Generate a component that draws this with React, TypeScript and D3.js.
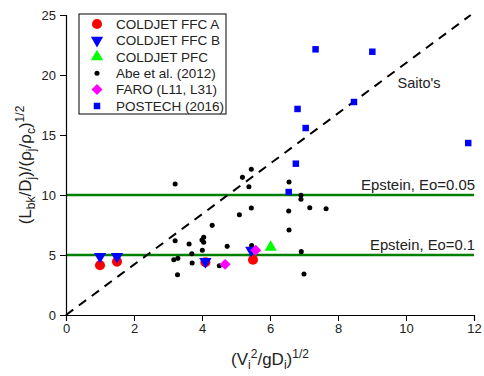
import React, { useEffect, useRef } from 'react';
import * as d3 from 'd3';

// COLDJET / Abe / FARO / POSTECH data: [x, y]
const coldjetFfcA = [[1.0, 4.15], [1.5, 4.45], [4.1, 4.4], [5.5, 4.6]];
const coldjetFfcB = [[1.0, 4.88], [1.5, 4.88], [4.1, 4.45], [5.45, 5.4]];
const coldjetPfc = [[6.02, 5.65]];
const abe2012 = [
  [3.21, 10.92], [5.19, 11.47], [5.45, 12.14], [5.38, 10.69], [5.45, 8.92],
  [5.1, 8.36], [4.3, 7.47], [3.21, 6.19], [4.05, 6.47], [4.0, 6.25],
  [4.05, 6.06], [3.62, 5.92], [4.74, 5.72], [4.01, 5.39], [5.46, 5.8],
  [3.7, 5.11], [3.29, 4.72], [3.17, 4.61], [3.71, 4.33], [4.51, 4.11],
  [3.28, 3.36], [6.56, 11.08], [6.91, 9.97], [6.91, 9.64], [6.55, 8.67],
  [7.17, 8.94], [7.65, 8.86], [6.56, 7.08], [6.92, 5.28], [7.0, 3.42]
];
const faro = [[4.68, 4.22], [5.58, 5.4]];
const postech2016 = [
  [7.34, 22.14], [9.01, 21.94], [8.47, 17.75], [6.81, 17.17], [7.05, 15.58],
  [11.83, 14.33], [6.76, 12.61], [6.55, 10.25]
];

const epsteinLevels = [10, 5];
const epsteinLabels = ['Epstein, Eo=0.05', 'Epstein, Eo=0.1'];
const epsteinWidths = [114, 105];
const saitoSlope = 2.1;

const xTicks = [0, 2, 4, 6, 8, 10, 12];
const yTicks = [0, 5, 10, 15, 20, 25];

const seriesNames = [
  'COLDJET FFC A', 'COLDJET FFC B', 'COLDJET PFC',
  'Abe et al. (2012)', 'FARO (L11, L31)', 'POSTECH (2016)'
];

const App = () => {
  const svgRef = useRef(null);
  const width = 484;
  const height = 376;
  const margin = { top: 15, right: 8, bottom: 61, left: 66 };

  useEffect(() => {
    const svg = d3.select(svgRef.current);
    svg.selectAll('*').remove();
    const font = 'Liberation Sans, Arial, sans-serif';

    const plotW = width - margin.left - margin.right - 2;
    const plotH = height - margin.top - margin.bottom;

    const x = d3.scaleLinear().domain([0, 12]).range([0, plotW]);
    const y = d3.scaleLinear().domain([0, 25]).range([plotH, 0]);

    const plot = svg.append('g')
      .attr('transform', `translate(${margin.left}, ${margin.top})`);

    // reference lines
    plot.selectAll('.epstein')
      .data(epsteinLevels)
      .enter()
      .append('line')
      .attr('x1', x(0))
      .attr('x2', x(12))
      .attr('y1', d => y(d))
      .attr('y2', d => y(d))
      .attr('stroke', '#008000')
      .attr('stroke-width', 2.5);

    plot.selectAll('.epstein-label')
      .data(epsteinLevels)
      .enter()
      .append('text')
      .attr('x', x(12) + 1)
      .attr('y', d => y(d) - 5)
      .attr('text-anchor', 'end')
      .attr('font-family', font)
      .attr('font-size', 14)
      .attr('textLength', (d, i) => epsteinWidths[i])
      .attr('lengthAdjust', 'spacingAndGlyphs')
      .attr('fill', '#222')
      .text((d, i) => epsteinLabels[i]);

    const saitoEnd = 25 / saitoSlope;
    plot.append('line')
      .attr('x1', x(0))
      .attr('y1', y(0))
      .attr('x2', x(saitoEnd))
      .attr('y2', y(25))
      .attr('stroke', '#000')
      .attr('stroke-width', 2)
      .attr('stroke-dasharray', '9,7');

    plot.append('text')
      .attr('x', x(9.75))
      .attr('y', y(18.95))
      .attr('font-family', font)
      .attr('font-size', 14.5)
      .attr('fill', '#222')
      .text("Saito's");

    // axes
    const xAxis = plot.append('g').attr('transform', `translate(0, ${plotH})`);
    xAxis.call(d3.axisBottom(x).tickValues(d3.range(0, 13, 1)).tickSize(3).tickFormat(() => ''));
    xAxis.call(d3.axisBottom(x).tickValues(xTicks).tickSize(6).tickPadding(3).tickFormat(d3.format('d')));

    const yAxis = plot.append('g');
    yAxis.call(d3.axisLeft(y).tickValues(d3.range(0, 26, 1)).tickSize(3).tickFormat(() => ''));
    yAxis.call(d3.axisLeft(y).tickValues(yTicks).tickSize(6).tickPadding(4).tickFormat(d3.format('d')));

    svg.selectAll('.domain').attr('stroke', '#000').attr('stroke-width', 1.2);
    svg.selectAll('.tick line').attr('stroke', '#000');
    svg.selectAll('.tick text')
      .attr('font-family', font)
      .attr('font-size', 13)
      .attr('fill', '#222');

    // markers
    const sym = (type, size) => d3.symbol().type(type).size(size)();
    const drawSeries = (data, path, fill, rotate = 0) => {
      plot.append('g').selectAll('path')
        .data(data)
        .enter()
        .append('path')
        .attr('d', path)
        .attr('transform', d => `translate(${x(d[0])}, ${y(d[1])}) rotate(${rotate})`)
        .attr('fill', fill);
    };

    const circlePath = sym(d3.symbolCircle, 80);
    const triPath = sym(d3.symbolTriangle, 65);
    const dotPath = sym(d3.symbolCircle, 20);
    const diamondPath = sym(d3.symbolSquare, 60);
    const squarePath = sym(d3.symbolSquare, 42);

    drawSeries(abe2012, dotPath, '#000');
    drawSeries(coldjetFfcA, circlePath, '#ff0000');
    drawSeries(coldjetFfcB, triPath, '#0000ff', 180);
    drawSeries(coldjetPfc, triPath, '#00ff00');
    drawSeries(faro, diamondPath, '#ff00ff', 45);
    drawSeries(postech2016, squarePath, '#0000ff');

    // legend
    const legend = svg.append('g').attr('transform', 'translate(79, 14)');
    legend.append('rect')
      .attr('width', 147)
      .attr('height', 100)
      .attr('fill', '#fff')
      .attr('stroke', '#000')
      .attr('stroke-width', 1);

    const legendMarks = [
      { path: circlePath, fill: '#ff0000', rot: 0 },
      { path: triPath, fill: '#0000ff', rot: 180 },
      { path: triPath, fill: '#00ff00', rot: 0 },
      { path: dotPath, fill: '#000', rot: 0 },
      { path: diamondPath, fill: '#ff00ff', rot: 45 },
      { path: squarePath, fill: '#0000ff', rot: 0 }
    ];

    const rows = legend.selectAll('.row')
      .data(seriesNames)
      .enter()
      .append('g')
      .attr('transform', (d, i) => `translate(0, ${10 + i * 16.4})`);

    rows.append('path')
      .attr('d', (d, i) => legendMarks[i].path)
      .attr('fill', (d, i) => legendMarks[i].fill)
      .attr('transform', (d, i) => `translate(18, 0) rotate(${legendMarks[i].rot})`);

    rows.append('text')
      .attr('x', 37)
      .attr('y', 4.8)
      .attr('font-family', font)
      .attr('font-size', 13.5)
      .attr('fill', '#222')
      .text(d => d);

    // axis titles
    const xt = svg.append('text')
      .attr('x', margin.left + plotW / 2)
      .attr('y', 365)
      .attr('text-anchor', 'middle')
      .attr('font-family', font)
      .attr('font-size', 17)
      .attr('fill', '#222');
    const addPart = (t, s, kind) => {
      const span = t.append('tspan').text(s);
      if (kind === 'sub') span.attr('font-size', 12).attr('baseline-shift', '-30%');
      if (kind === 'sup') span.attr('font-size', 12).attr('baseline-shift', '55%');
      return span;
    };
    addPart(xt, '(V');
    addPart(xt, 'i', 'sub');
    addPart(xt, '2', 'sup');
    addPart(xt, '/gD');
    addPart(xt, 'i', 'sub');
    addPart(xt, ')');
    addPart(xt, '1/2', 'sup');

    const yt = svg.append('text')
      .attr('transform', `translate(31, ${margin.top + plotH / 2}) rotate(-90)`)
      .attr('text-anchor', 'middle')
      .attr('font-family', font)
      .attr('font-size', 17)
      .attr('fill', '#222');
    addPart(yt, '(L');
    addPart(yt, 'bk', 'sub');
    addPart(yt, '/D');
    addPart(yt, 'j', 'sub');
    addPart(yt, ')/(\u03c1');
    addPart(yt, 'j', 'sub');
    addPart(yt, '/\u03c1');
    addPart(yt, 'c', 'sub');
    addPart(yt, ')');
    addPart(yt, '1/2', 'sup');
  }, []);

  return (
    <svg
      ref={svgRef}
      width={width}
      height={height}
      style={{ position: 'absolute', left: 0, top: 0, background: '#fff' }}
    />
  );
};

export default App;
